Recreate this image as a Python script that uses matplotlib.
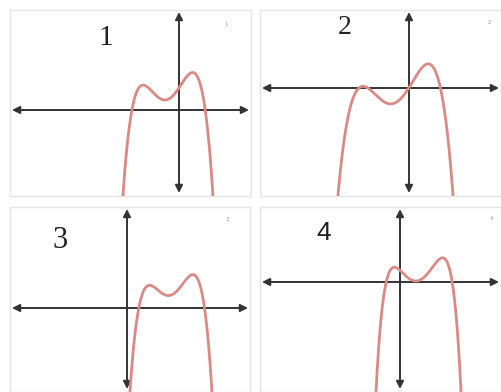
import numpy as np
import matplotlib.pyplot as plt

# key points (units: 1 = 10 px, origin at axes crossing)
curve1_x = [-5.6, -4.7, -3.6, -1.4, 0.0, 1.4, 2.5, 3.4]
curve1_y = [-8.5, 0.0, 2.4, 1.1, 2.7, 4.0, 0.0, -8.5]
curve1_peaks = [-3.6, -1.4, 1.4]

curve2_x = [-7.1, -4.6, -1.8, 0.0, 1.9, 3.2, 4.4]
curve2_y = [-10.7, 0.1, -1.6, 0.0, 2.3, 0.0, -10.7]
curve2_peaks = [-4.6, -1.8, 1.9]

curve3_x = [0.3, 1.1, 2.3, 4.1, 6.6, 7.7, 8.5]
curve3_y = [-8.4, 0.0, 2.3, 1.0, 3.5, 0.0, -8.4]
curve3_peaks = [2.3, 4.1, 6.6]

curve4_x = [-2.4, -1.2, -0.6, 1.8, 4.2, 5.3, 6.1]
curve4_y = [-11.0, 0.0, 1.4, 0.0, 2.8, 0.0, -11.0]
curve4_peaks = [-0.6, 1.8, 4.2]

labels = ["1", "2", "3", "4"]

W, H = 502, 392


def poly_through(xs, ys, peaks, deg=6):
    # least-squares polynomial through the read points, flat at the turning points
    A, b = [], []
    for x, y in zip(xs, ys):
        A.append([x ** k for k in range(deg + 1)])
        b.append(y)
    for x in peaks:
        A.append([3 * k * x ** (k - 1) if k > 0 else 0.0 for k in range(deg + 1)])
        b.append(0.0)
    c = np.linalg.lstsq(np.array(A), np.array(b), rcond=None)[0]
    return c[::-1]


fig = plt.figure(figsize=(W / 100, H / 100), dpi=100)
fig.patch.set_facecolor("white")

# panel boxes in pixels: left, right, top, bottom, origin x, origin y
panels = [
    (10, 251, 10, 196, 179, 110),
    (260, 501, 10, 196, 409, 88),
    (10, 250, 207, 392, 127, 308),
    (260, 501, 207, 392, 400, 282),
]
curves = [
    (curve1_x, curve1_y, curve1_peaks),
    (curve2_x, curve2_y, curve2_peaks),
    (curve3_x, curve3_y, curve3_peaks),
    (curve4_x, curve4_y, curve4_peaks),
]

for (l, r, t, bt, ox, oy), (cx, cy, pk) in zip(panels, curves):
    ax = fig.add_axes([l / W, 1 - bt / H, (r - l) / W, (bt - t) / H])
    x0, x1 = (l - ox) / 10, (r - ox) / 10
    y0, y1 = (oy - bt) / 10, (oy - t) / 10
    ax.set_xlim(x0, x1)
    ax.set_ylim(y0, y1)
    ax.set_xticks([])
    ax.set_yticks([])
    for s in ax.spines.values():
        s.set_color("#e4e4e4")
        s.set_linewidth(1)

    arrow = dict(arrowstyle="<|-|>", color="#333333", lw=1.4, mutation_scale=11,
                 shrinkA=0, shrinkB=0)
    ax.annotate("", xy=(x1 - 0.2, 0), xytext=(x0 + 0.2, 0), arrowprops=arrow)
    ax.annotate("", xy=(0, y1 - 0.2), xytext=(0, y0 + 0.3), arrowprops=arrow)

    coef = poly_through(cx, cy, pk)
    xx = np.linspace(cx[0] - 0.3, cx[-1] + 0.3, 400)
    ax.plot(xx, np.polyval(coef, xx), color="#d98a84", lw=2, zorder=3)

# big panel numbers
fig.text(106 / W, 1 - 38 / H, labels[0], family="Liberation Serif", fontsize=21,
         ha="center", va="center", color="#222222")
fig.text(345 / W, 1 - 28 / H, labels[1], family="Liberation Serif", fontsize=20,
         ha="center", va="center", color="#222222")
fig.text(60 / W, 1 - 241 / H, labels[2], family="Liberation Serif", fontsize=22,
         ha="center", va="center", color="#222222")
fig.text(324 / W, 1 - 233 / H, labels[3], family="Liberation Sans", fontsize=19,
         ha="center", va="center", color="#222222")

# tiny corner numbers
for (x, y), lab in zip([(226, 25), (489, 23), (227, 220), (491, 219)], labels):
    fig.text(x / W, 1 - y / H, lab, fontsize=4, ha="center", va="center",
             color="#999999")

fig.savefig("out.png", dpi=100)
